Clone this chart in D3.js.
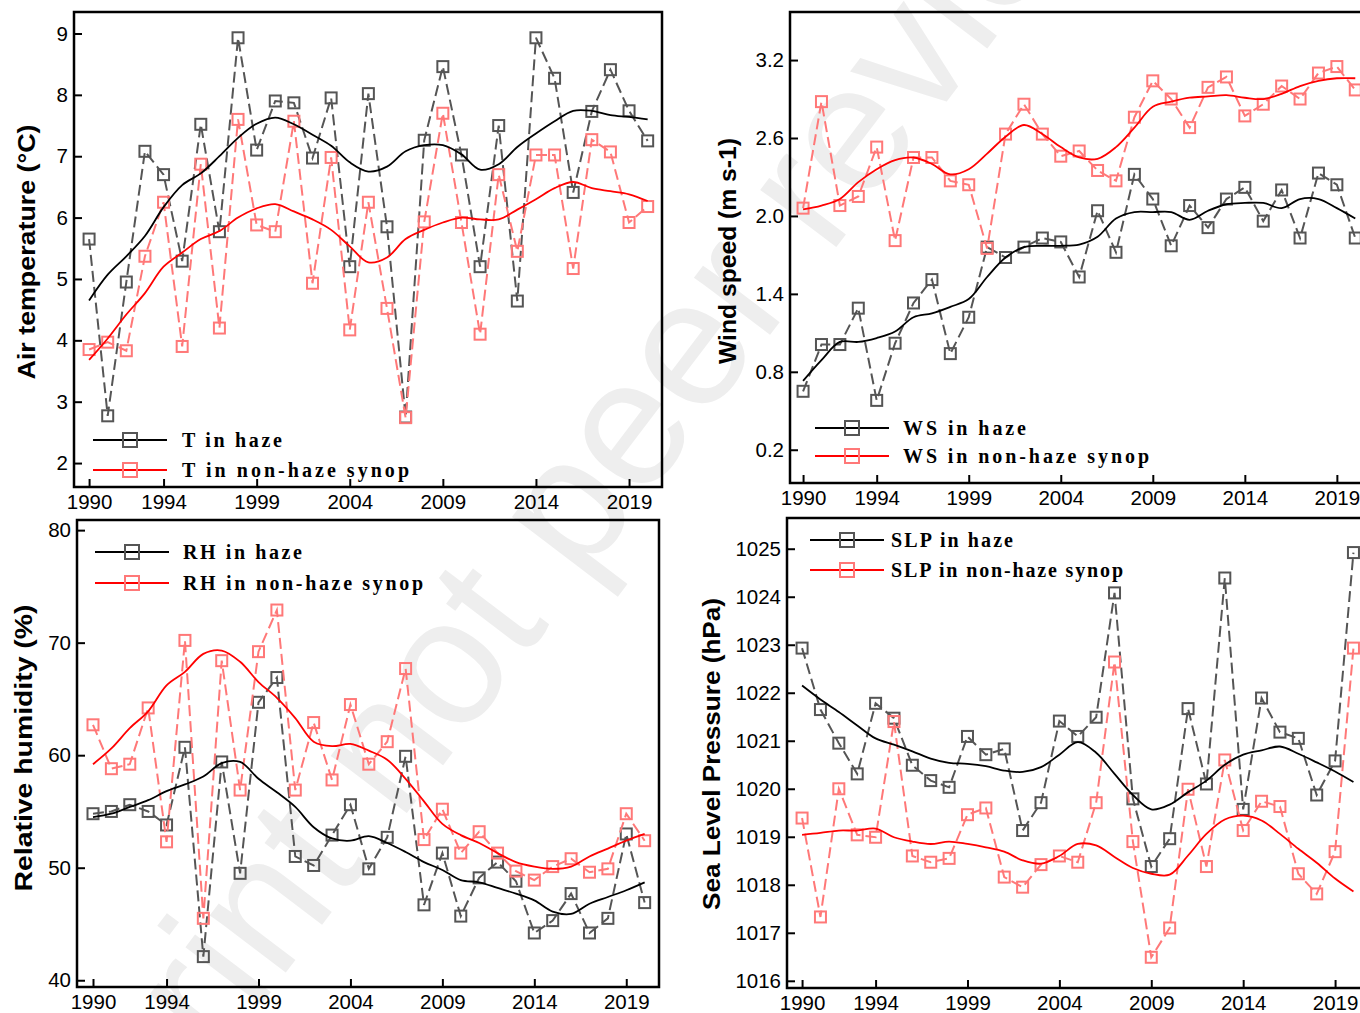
<!DOCTYPE html>
<html>
<head>
<meta charset="utf-8">
<script src="https://cdn.jsdelivr.net/npm/d3@7"></script>
<style>
  html, body { margin: 0; padding: 0; background: #fff; }
  svg { display: block; }
</style>
</head>
<body>
<svg id="chart" width="1360" height="1013"></svg>
<script>
// years on every x axis
const years = [1990, 1991, 1992, 1993, 1994, 1995, 1996, 1997, 1998, 1999, 2000, 2001, 2002, 2003, 2004, 2005,
  2006, 2007, 2008, 2009, 2010, 2011, 2012, 2013, 2014, 2015, 2016, 2017, 2018, 2019, 2020]
const yearTicks = [1990, 1994, 1999, 2004, 2009, 2014, 2019]

// Air temperature (°C)
const tHaze = [5.65, 2.77, 4.95, 7.08, 6.70, 5.29, 7.52, 5.77, 8.93, 7.10, 7.90, 7.87, 6.97, 7.95, 5.20, 8.02,
  5.85, 2.75, 7.26, 8.46, 7.02, 5.20, 7.50, 4.64, 8.93, 8.27, 6.41, 7.73, 8.41, 7.74, 7.25]
const tNonHaze = [3.85, 3.97, 3.83, 5.37, 6.25, 3.90, 6.87, 4.20, 7.60, 5.88, 5.77, 7.57, 4.93, 6.98, 4.17, 6.25,
  4.52, 2.74, 5.93, 7.70, 5.92, 4.10, 6.70, 5.45, 7.02, 7.02, 5.17, 7.27, 7.07, 5.92, 6.18]
const tHazeFit = [4.65, 5.07, 5.37, 5.70, 6.17, 6.53, 6.72, 7.00, 7.30, 7.53, 7.63, 7.52, 7.35, 7.17, 6.90, 6.75,
  6.83, 7.08, 7.18, 7.18, 7.03, 6.78, 6.87, 7.15, 7.37, 7.57, 7.74, 7.74, 7.67, 7.64, 7.60]
const tNonHazeFit = [3.68, 4.03, 4.42, 4.77, 5.20, 5.43, 5.65, 5.78, 6.00, 6.15, 6.22, 6.10, 5.97, 5.80, 5.53, 5.27,
  5.35, 5.65, 5.80, 5.92, 6.00, 5.97, 5.97, 6.13, 6.30, 6.48, 6.58, 6.48, 6.43, 6.38, 6.27]
const tTicks = [2, 3, 4, 5, 6, 7, 8, 9]

// Wind speed (m s-1)
const wsHaze = [0.65, 1.01, 1.01, 1.29, 0.58, 1.02, 1.33, 1.51, 0.94, 1.22, 1.76, 1.68, 1.76, 1.83, 1.80, 1.53,
  2.04, 1.72, 2.32, 2.13, 1.77, 2.08, 1.91, 2.13, 2.22, 1.96, 2.20, 1.83, 2.33, 2.24, 1.83]
const wsNonHaze = [2.06, 2.88, 2.08, 2.15, 2.53, 1.81, 2.45, 2.45, 2.27, 2.24, 1.75, 2.63, 2.86, 2.63, 2.46, 2.50,
  2.35, 2.27, 2.76, 3.04, 2.90, 2.68, 2.99, 3.07, 2.77, 2.86, 3.00, 2.90, 3.10, 3.15, 2.97]
const wsHazeFit = [0.73, 0.89, 1.03, 1.03, 1.06, 1.11, 1.22, 1.25, 1.30, 1.36, 1.53, 1.68, 1.76, 1.77, 1.77, 1.78,
  1.84, 1.98, 2.03, 2.03, 2.03, 1.97, 2.04, 2.09, 2.10, 2.10, 2.06, 2.13, 2.13, 2.06, 1.98]
const wsNonHazeFit = [2.05, 2.08, 2.13, 2.26, 2.36, 2.43, 2.45, 2.40, 2.32, 2.36, 2.48, 2.61, 2.70, 2.63, 2.53, 2.45,
  2.44, 2.53, 2.68, 2.84, 2.88, 2.91, 2.92, 2.93, 2.91, 2.90, 2.94, 3.00, 3.04, 3.06, 3.06]
const wsTicks = [0.2, 0.8, 1.4, 2.0, 2.6, 3.2]

// Relative humidity (%)
const rhHaze = [54.8, 55.0, 55.6, 55.0, 53.8, 60.7, 42.1, 59.4, 49.5, 64.7, 66.9, 51.0, 50.2, 52.9, 55.6, 49.9,
  52.7, 59.9, 46.7, 51.3, 45.7, 49.1, 50.5, 48.8, 44.2, 45.3, 47.7, 44.2, 45.5, 53.0, 46.9]
const rhNonHaze = [62.7, 58.8, 59.2, 64.2, 52.3, 70.2, 45.5, 68.4, 56.9, 69.2, 72.9, 56.9, 62.9, 57.8, 64.5, 59.2,
  61.2, 67.7, 52.5, 55.2, 51.3, 53.2, 51.3, 49.7, 48.9, 50.1, 50.8, 49.6, 49.9, 54.8, 52.4]
const rhHazeFit = [54.5, 54.8, 55.4, 56.0, 56.8, 57.4, 58.1, 59.3, 59.4, 57.9, 56.7, 55.4, 53.6, 52.6, 52.4, 52.8,
  52.2, 51.4, 50.5, 49.8, 48.9, 48.7, 48.2, 47.7, 47.1, 46.1, 45.9, 46.8, 47.4, 48.0, 48.7]
const rhNonHazeFit = [59.2, 60.6, 62.4, 63.9, 66.2, 67.4, 69.0, 69.3, 68.3, 66.5, 65.1, 63.3, 61.2, 60.8, 61.0, 60.4,
  59.6, 57.9, 55.9, 53.9, 52.9, 52.2, 51.3, 50.5, 50.1, 49.9, 50.1, 51.0, 51.7, 52.4, 53.0]
const rhTicks = [40, 50, 60, 70, 80]

// Sea level pressure (hPa)
const slpHaze = [1022.93, 1021.65, 1020.95, 1020.31, 1021.78, 1021.47, 1020.49, 1020.17, 1020.03, 1021.09, 1020.71,
  1020.83, 1019.13, 1019.71, 1021.41, 1021.09, 1021.49, 1024.08, 1019.79, 1018.38, 1018.96, 1021.67, 1020.10,
  1024.39, 1019.57, 1021.89, 1021.18, 1021.05, 1019.87, 1020.58, 1024.92]
const slpNonHaze = [1019.39, 1017.33, 1020.00, 1019.04, 1018.99, 1021.40, 1018.60, 1018.47, 1018.55, 1019.46, 1019.60,
  1018.16, 1017.95, 1018.42, 1018.60, 1018.47, 1019.71, 1022.64, 1018.90, 1016.49, 1017.10, 1019.99, 1018.38,
  1020.60, 1019.13, 1019.74, 1019.63, 1018.23, 1017.81, 1018.69, 1022.93]
const slpHazeFit = [1022.15, 1021.86, 1021.60, 1021.32, 1021.05, 1020.92, 1020.78, 1020.63, 1020.54, 1020.52, 1020.47,
  1020.38, 1020.35, 1020.45, 1020.71, 1020.97, 1020.75, 1020.31, 1019.87, 1019.57, 1019.67, 1019.93, 1020.17,
  1020.50, 1020.71, 1020.80, 1020.88, 1020.73, 1020.55, 1020.36, 1020.14]
const slpNonHazeFit = [1019.04, 1019.08, 1019.13, 1019.13, 1019.17, 1018.99, 1018.90, 1018.85, 1018.90, 1018.85, 1018.78,
  1018.69, 1018.51, 1018.44, 1018.60, 1018.85, 1018.82, 1018.58, 1018.35, 1018.23, 1018.21, 1018.61, 1019.06,
  1019.36, 1019.44, 1019.34, 1019.06, 1018.75, 1018.46, 1018.13, 1017.86]
const slpTicks = [1016, 1017, 1018, 1019, 1020, 1021, 1022, 1023, 1024, 1025]

const hazeGrey = '#555',
  nonHazePink = '#ff7878',
  fitBlack = '#000',
  fitRed = '#ff0000'

const svg = d3.select('#chart')

// faint "preprint" watermark behind everything
svg.append('text')
  .attr('transform', 'translate(576,486) rotate(-52.8)')
  .attr('text-anchor', 'middle')
  .attr('dy', '0.35em')
  .style('font-family', '"Liberation Sans", Arial, sans-serif')
  .style('font-size', '180px')
  .attr('fill', '#eeeeee')
  .text('Preprint not peer reviewed')

// one object per panel: where it sits and which arrays it draws
const panels = [
  {
    left: 74, right: 662, top: 12, bottom: 487,
    xDomain: [1989.19, 2020.77], yDomain: [1.61, 9.35], yTicks: tTicks, fmt: d3.format('d'),
    haze: tHaze, nonHaze: tNonHaze, hazeFit: tHazeFit, nonHazeFit: tNonHazeFit,
    title: 'Air temperature (°C)', titleX: 27, titleY: 252, titleLen: 255,
    names: ['T in haze', 'T in non-haze synop'], nameLen: [100, 227],
    lineX: 93, textX: 182, legendY: [440, 470]
  },
  {
    left: 790, right: 1370, top: 12, bottom: 483,
    xDomain: [1989.29, 2020.8], yDomain: [-0.056, 3.57], yTicks: wsTicks, fmt: d3.format('.1f'),
    haze: wsHaze, nonHaze: wsNonHaze, hazeFit: wsHazeFit, nonHazeFit: wsNonHazeFit,
    title: 'Wind speed (m s-1)', titleX: 728, titleY: 251, titleLen: 226,
    names: ['WS in haze', 'WS in non-haze synop'], nameLen: [123, 246],
    lineX: 815, textX: 903, legendY: [428, 456]
  },
  {
    left: 77, right: 659, top: 520, bottom: 987,
    xDomain: [1989.13, 2020.78], yDomain: [39.4, 80.9], yTicks: rhTicks, fmt: d3.format('d'),
    haze: rhHaze, nonHaze: rhNonHaze, hazeFit: rhHazeFit, nonHazeFit: rhNonHazeFit,
    title: 'Relative humidity (%)', titleX: 24, titleY: 748, titleLen: 287,
    names: ['RH in haze', 'RH in non-haze synop'], nameLen: [119, 240],
    lineX: 95, textX: 183, legendY: [552, 583]
  },
  {
    left: 787, right: 1370, top: 518, bottom: 988,
    xDomain: [1989.18, 2020.9], yDomain: [1015.85, 1025.64], yTicks: slpTicks, fmt: d3.format('d'),
    haze: slpHaze, nonHaze: slpNonHaze, hazeFit: slpHazeFit, nonHazeFit: slpNonHazeFit,
    title: 'Sea Level Pressure (hPa)', titleX: 712, titleY: 754, titleLen: 312,
    names: ['SLP in haze', 'SLP in non-haze synop'], nameLen: [122, 232],
    lineX: 810, textX: 891, legendY: [540, 570]
  }
]

panels.forEach(drawPanel)

function drawPanel(p) {
  const x = d3.scaleLinear().domain(p.xDomain).range([p.left, p.right])
  const y = d3.scaleLinear().domain(p.yDomain).range([p.bottom, p.top])
  const g = svg.append('g')

  const line = d3.line()
    .x((d, i) => x(years[i]))
    .y((d) => y(d))

  // Dashed yearly series with hollow square markers
  drawSeries(g, p.haze, hazeGrey, line, x, y)
  drawSeries(g, p.nonHaze, nonHazePink, line, x, y)

  // Smoothed curves
  g.append('path').datum(p.hazeFit)
    .attr('d', line.curve(d3.curveCatmullRom))
    .attr('fill', 'none').attr('stroke', fitBlack).attr('stroke-width', 1.8)
  g.append('path').datum(p.nonHazeFit)
    .attr('d', line.curve(d3.curveCatmullRom))
    .attr('fill', 'none').attr('stroke', fitRed).attr('stroke-width', 1.8)

  // Frame
  g.append('rect')
    .attr('x', p.left).attr('y', p.top)
    .attr('width', p.right - p.left).attr('height', p.bottom - p.top)
    .attr('fill', 'none').attr('stroke', '#000').attr('stroke-width', 2.5)

  // Axes, ticks pointing inward
  const yAxis = g.append('g')
    .attr('transform', `translate(${p.left},0)`)
    .call(d3.axisLeft(y).tickValues(p.yTicks).tickFormat(p.fmt).tickSizeInner(-8).tickSizeOuter(0).tickPadding(6))
  const xAxis = g.append('g')
    .attr('transform', `translate(0,${p.bottom})`)
    .call(d3.axisBottom(x).tickValues(yearTicks).tickFormat(d3.format('d')).tickSizeInner(-8).tickSizeOuter(0).tickPadding(7))
  ;[xAxis, yAxis].forEach((a) => {
    a.select('.domain').remove()
    a.selectAll('.tick line').attr('stroke', '#000').attr('stroke-width', 2)
    a.selectAll('.tick text')
      .attr('fill', '#000')
      .style('font-family', '"Liberation Sans", Arial, sans-serif')
      .style('font-size', '20.5px')
  })

  // Y axis title
  g.append('text')
    .attr('transform', `translate(${p.titleX},${p.titleY}) rotate(-90)`)
    .attr('text-anchor', 'middle')
    .attr('dy', '0.35em')
    .attr('textLength', p.titleLen)
    .attr('lengthAdjust', 'spacingAndGlyphs')
    .style('font-family', '"Liberation Sans", Arial, sans-serif')
    .style('font-size', '24px')
    .style('font-weight', 'bold')
    .text(p.title)

  // Legend
  const legendColors = [[fitBlack, hazeGrey], [fitRed, nonHazePink]]
  p.names.forEach((name, i) => {
    const ly = p.legendY[i]
    g.append('line')
      .attr('x1', p.lineX).attr('x2', p.lineX + 74)
      .attr('y1', ly).attr('y2', ly)
      .attr('stroke', legendColors[i][0]).attr('stroke-width', 2)
    g.append('rect')
      .attr('x', p.lineX + 30).attr('y', ly - 7)
      .attr('width', 14).attr('height', 14)
      .attr('fill', 'none').attr('stroke', legendColors[i][1]).attr('stroke-width', 2)
    g.append('text')
      .attr('x', p.textX).attr('y', ly)
      .attr('dy', '0.35em')
      .attr('textLength', p.nameLen[i])
      .attr('lengthAdjust', 'spacing')
      .style('font-family', '"Liberation Serif", "Times New Roman", serif')
      .style('font-size', '20px')
      .style('font-weight', 'bold')
      .text(name)
  })
}

function drawSeries(g, values, color, line, x, y) {
  g.append('path').datum(values)
    .attr('d', line.curve(d3.curveLinear))
    .attr('fill', 'none')
    .attr('stroke', color)
    .attr('stroke-width', 2)
    .attr('stroke-dasharray', '11,5')
  g.selectAll(null).data(values).join('rect')
    .attr('x', (d, i) => x(years[i]) - 5.5)
    .attr('y', (d) => y(d) - 5.5)
    .attr('width', 11).attr('height', 11)
    .attr('fill', 'none')
    .attr('stroke', color)
    .attr('stroke-width', 2)
}
</script>
</body>
</html>
